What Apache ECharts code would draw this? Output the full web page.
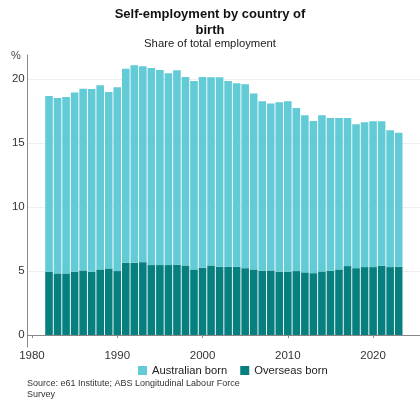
<!DOCTYPE html>
<html>
<head>
<meta charset="utf-8">
<script src="https://cdn.jsdelivr.net/npm/echarts@6/dist/echarts.min.js"></script>
<style>
  html, body { margin: 0; padding: 0; background: #fff; }
  #chart { width: 420px; height: 404px; }
</style>
</head>
<body>
<div id="chart"></div>
<script>
// Self-employment share of total employment (%), by country of birth
const years = [
  1982, 1983, 1984, 1985, 1986, 1987, 1988, 1989, 1990, 1991,
  1992, 1993, 1994, 1995, 1996, 1997, 1998, 1999, 2000, 2001,
  2002, 2003, 2004, 2005, 2006, 2007, 2008, 2009, 2010, 2011,
  2012, 2013, 2014, 2015, 2016, 2017, 2018, 2019, 2020, 2021,
  2022, 2023
];
const overseasBorn = [
  4.95, 4.82, 4.82, 4.95, 5.05, 4.95, 5.13, 5.21, 5.00, 5.65,
  5.65, 5.70, 5.47, 5.47, 5.47, 5.50, 5.44, 5.13, 5.26, 5.44,
  5.34, 5.34, 5.34, 5.23, 5.13, 5.03, 5.05, 4.95, 4.95, 5.00,
  4.90, 4.84, 4.97, 5.03, 5.13, 5.39, 5.23, 5.31, 5.31, 5.42,
  5.31, 5.34
];
const australianBorn = [
  13.75, 13.72, 13.80, 14.01, 14.22, 14.29, 14.40, 13.80, 14.38, 15.18,
  15.44, 15.32, 15.42, 15.26, 15.00, 15.20, 14.74, 14.74, 14.92, 14.72,
  14.82, 14.53, 14.35, 14.38, 13.75, 13.25, 13.05, 13.25, 13.33, 12.76,
  12.29, 11.90, 12.22, 11.95, 11.85, 11.59, 11.25, 11.33, 11.41, 11.30,
  10.71, 10.47
];
const yTicks = [0, 5, 10, 15, 20];
const xTicks = [1980, 1990, 2000, 2010, 2020];

// The time axis runs one category per year, from 1980 to 2025
const axisStart = 1980;
const axisEnd = 2025;
const axisYears = [];
for (let y = axisStart; y <= axisEnd; y++) axisYears.push(String(y));

const valueFor = (series) => axisYears.map((label) => {
  const i = years.indexOf(Number(label));
  return i < 0 ? null : series[i];
});
const isTickYear = (index) => xTicks.includes(axisStart + index);

const lightTeal = '#62cbd5';
const darkTeal = '#087f7f';
const fontFamily = 'Liberation Sans, Arial, sans-serif';

const chart = echarts.init(document.getElementById('chart'), null, { renderer: 'canvas' });

chart.setOption({
  backgroundColor: '#ffffff',
  animation: false,
  textStyle: { fontFamily },
  title: {
    text: 'Self-employment by country of\nbirth',
    subtext: 'Share of total employment',
    left: 'center',
    top: 1,
    itemGap: 0,
    textStyle: { fontSize: 13, fontWeight: 'bold', color: '#111', lineHeight: 16 },
    subtextStyle: { fontSize: 11.3, color: '#222' }
  },
  graphic: [
    { type: 'text', left: 11, top: 50, style: { text: '%', fontSize: 11, fill: '#444', fontFamily } },
    {
      type: 'text', left: 27, top: 378,
      style: {
        text: 'Source: e61 Institute; ABS Longitudinal Labour Force\nSurvey',
        fontSize: 9, lineHeight: 11, fill: '#333', fontFamily
      }
    }
  ],
  legend: {
    bottom: 23,
    left: 133,
    itemWidth: 9,
    itemHeight: 9,
    itemGap: 13,
    icon: 'rect',
    textStyle: { fontSize: 11.2, color: '#222' },
    data: ['Australian born', 'Overseas born']
  },
  grid: { left: 27.7, right: -4, top: 55, bottom: 57, containLabel: false },
  xAxis: {
    type: 'category',
    data: axisYears,
    boundaryGap: true,
    axisLine: { show: true, lineStyle: { color: '#888', width: 1 } },
    axisTick: { show: true, length: 3, alignWithLabel: true, interval: isTickYear, lineStyle: { color: '#888' } },
    axisLabel: { interval: isTickYear, color: '#333', fontSize: 11.5, margin: 3 },
    splitLine: { show: false }
  },
  yAxis: {
    type: 'value',
    min: -0.9375,
    max: 21.9,
    axisLine: { show: true, lineStyle: { color: '#888', width: 1 } },
    axisTick: { show: false, customValues: yTicks },
    axisLabel: { customValues: yTicks, color: '#333', fontSize: 11.5, margin: 3 },
    splitLine: { show: true, lineStyle: { color: '#eeeeee', width: 1 } }
  },
  series: [
    {
      name: 'Overseas born',
      type: 'bar',
      stack: 'total',
      barWidth: 7.6,
      itemStyle: { color: darkTeal },
      data: valueFor(overseasBorn)
    },
    {
      name: 'Australian born',
      type: 'bar',
      stack: 'total',
      barWidth: 7.6,
      itemStyle: { color: lightTeal },
      data: valueFor(australianBorn)
    }
  ]
});
</script>
</body>
</html>
